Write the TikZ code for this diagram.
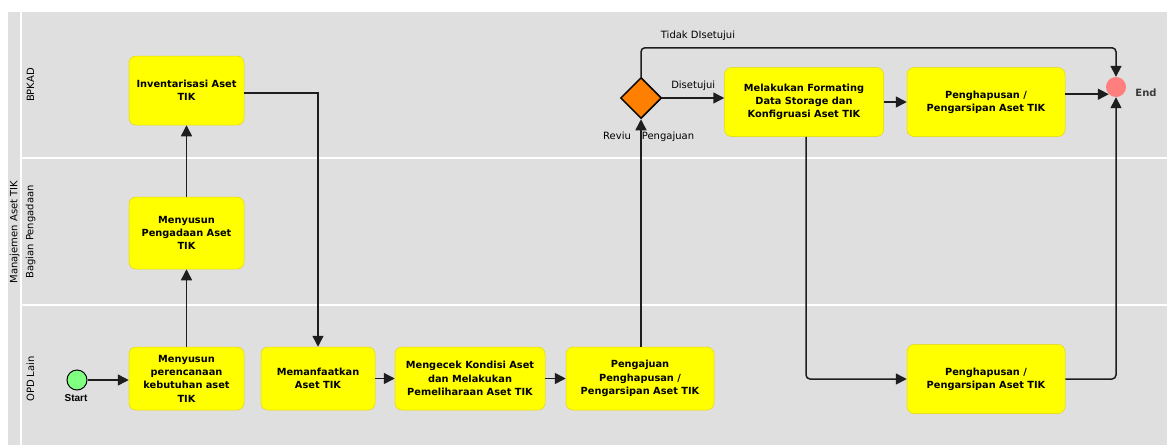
\documentclass[tikz,border=0pt]{standalone}
\usepackage{fontspec}
\setmainfont{DejaVu Sans}
\newfontfamily\startfont{Liberation Sans}
\usetikzlibrary{arrows.meta,shapes.geometric}
\definecolor{lanegray}{HTML}{DFDFDF}
\definecolor{taskyellow}{HTML}{FFFF00}
\definecolor{taskborder}{HTML}{E3D800}
\definecolor{gatewayorange}{HTML}{FF8000}
\definecolor{startgreen}{HTML}{80FF80}
\definecolor{endred}{HTML}{FF7F7F}
\definecolor{linecol}{HTML}{1E1E1E}
\definecolor{endtext}{HTML}{3A3A3A}
\tikzset{
  task/.style={draw=taskborder, line width=0.5pt, fill=taskyellow, rounded corners=7pt,
    align=center, inner sep=2pt, font=\bfseries\fontsize{9.8}{13.3}\selectfont},
  flow/.style={draw=linecol, line width=1.5pt, -{Triangle[length=11pt,width=11pt]}},
  flowr/.style={flow, rounded corners=4pt},
  lanelabel/.style={rotate=90, font=\fontsize{10}{12}\selectfont, text=black},
  flowlabel/.style={font=\fontsize{10}{12}\selectfont, text=black},
}
\begin{document}
\begin{tikzpicture}[x=1pt,y=-1pt]
\useasboundingbox (0,0) rectangle (1167,445);
% background and lanes
\fill[white] (0,0) rectangle (1167,445);
\fill[lanegray] (8,12) rectangle (1167,445);
\fill[white] (20,12) rectangle (22,445);
\fill[white] (22,156.5) rectangle (1167,158.5);
\fill[white] (22,304) rectangle (1167,306);
\node[lanelabel] (pool) at (14.5,232) {Manajemen Aset TIK};
\node[lanelabel] (lbpkad) at (30.5,85) {BPKAD};
\node[lanelabel] (lbagian) at (30.5,232) {Bagian Pengadaan};
\node[lanelabel] (lopd) at (30.5,379) {OPD Lain};
% tasks
\node[task, minimum width=115pt, minimum height=69pt] (inv) at (186.5,90.5) {Inventarisasi Aset\\TIK};
\node[task, minimum width=115pt, minimum height=72pt] (pen) at (186.5,233) {Menyusun\\Pengadaan Aset\\TIK};
\node[task, minimum width=115pt, minimum height=63pt] (per) at (186.5,378.5) {Menyusun\\perencanaan\\kebutuhan aset\\TIK};
\node[task, minimum width=114pt, minimum height=63pt] (man) at (318,378.5) {Memanfaatkan\\Aset TIK};
\node[task, minimum width=150pt, minimum height=63pt] (cek) at (470,378.5) {Mengecek Kondisi Aset\\dan Melakukan\\Pemeliharaan Aset TIK};
\node[task, minimum width=148pt, minimum height=63pt] (aju) at (640,378.5) {Pengajuan\\Penghapusan /\\Pengarsipan Aset TIK};
\node[task, minimum width=159pt, minimum height=69pt] (fmt) at (804,102) {Melakukan Formating\\Data Storage dan\\Konfigruasi Aset TIK};
\node[task, minimum width=158pt, minimum height=69pt] (ph1) at (986,102) {Penghapusan /\\Pengarsipan Aset TIK};
\node[task, minimum width=158pt, minimum height=69pt] (ph2) at (986,379) {Penghapusan /\\Pengarsipan Aset TIK};
% events and gateway
\node[circle, draw=black, line width=1pt, fill=startgreen, minimum size=20pt, inner sep=0pt] (start) at (77,380) {};
\node[font=\startfont\bfseries\fontsize{10}{11}\selectfont] (startlbl) at (76,398) {Start};
\node[circle, fill=endred, minimum size=20pt, inner sep=0pt] (endc) at (1116,87) {};
\node[font=\bfseries\fontsize{10}{12}\selectfont, text=endtext] (endlbl) at (1146,93) {End};
\node[diamond, draw=black, line width=1.5pt, fill=gatewayorange, minimum width=41pt, minimum height=41pt, inner sep=0pt] (dia) at (641,98) {};
\node[flowlabel, anchor=west, inner sep=0pt] (revlbl) at (603,137) {Reviu\hspace{11pt}Pengajuan};
% flows
\draw[flow] (start.east) -- (start.east -| per.west);
\draw[flow] (per) -- (pen);
\draw[flow] (pen) -- (inv);
\draw[flow] ([yshift=-2.5pt]inv.east) -| (man.north);
\draw[flow] (man) -- (cek);
\draw[flow] (cek) -- (aju);
\draw[flow] (dia.south |- aju.north) -- (dia.south);
\draw[flow] (dia.east) -- (dia.east -| fmt.west) node[flowlabel, midway, above=3pt] (dislbl) {Disetujui};
\draw[flowr] (dia.north) -- ++(0,-29) coordinate (topturn) -| (endc.north);
\node[flowlabel] (tidaklbl) at (698,36) {Tidak DIsetujui};
\draw[flow] (fmt) -- (ph1);
\draw[flow] (ph1.east |- endc.225) -- (endc.225);
\draw[flowr] ([xshift=2pt]fmt.south) |- (ph2.west);
\draw[flowr] (ph2.east) -| (endc.south);
\end{tikzpicture}
\end{document}
